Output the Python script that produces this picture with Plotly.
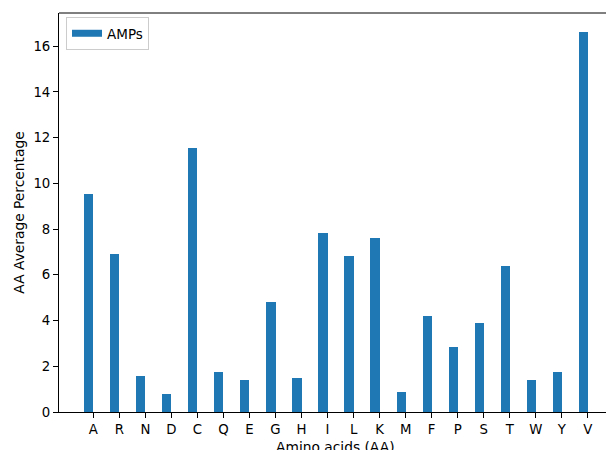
import plotly.graph_objects as go

amino_acids = ["A", "R", "N", "D", "C", "Q", "E", "G", "H", "I",
               "L", "K", "M", "F", "P", "S", "T", "W", "Y", "V"]
amp_values = [9.55, 6.90, 1.58, 0.79, 11.53, 1.75, 1.42, 4.82, 1.47, 7.84,
              6.83, 7.60, 0.87, 4.21, 2.84, 3.89, 6.39, 1.38, 1.76, 16.62]
y_ticks = [0, 2, 4, 6, 8, 10, 12, 14, 16]

BLUE = "#1f77b4"
FONT = "DejaVu Sans"

fig = go.Figure()
fig.add_trace(go.Bar(
    x=amino_acids, y=amp_values, width=0.35, offset=-0.35,
    marker=dict(color=BLUE, line=dict(width=0)),
    showlegend=False, name="AMPs",
))
# legend entry drawn as a wide patch
fig.add_trace(go.Scatter(
    x=[None], y=[None], mode="lines", name="AMPs",
    line=dict(color=BLUE, width=7),
))

fig.update_layout(
    width=606, height=450,
    margin=dict(l=59, r=0, t=13, b=38, pad=0),
    paper_bgcolor="white", plot_bgcolor="white",
    font=dict(family=FONT, size=13.3, color="black"),
    bargap=0,
    legend=dict(
        x=0.0128, y=0.99, xanchor="left", yanchor="top",
        bgcolor="white", bordercolor="#cccccc", borderwidth=1,
        font=dict(family=FONT, size=13.5, color="black"),
        itemwidth=30, tracegroupgap=0,
    ),
    xaxis=dict(
        type="category", range=[-1.32, 19.70],
        showline=True, linecolor="black", linewidth=1, mirror=False,
        ticks="outside", ticklen=5, tickwidth=1, tickcolor="black",
        showgrid=False, zeroline=False, automargin=False,
        tickfont=dict(family=FONT, size=13.3, color="black"),
    ),
    yaxis=dict(
        range=[0, 17.45], tickvals=y_ticks,
        showline=True, linecolor="black", linewidth=1, mirror=False,
        ticks="outside", ticklen=5, tickwidth=1, tickcolor="black",
        showgrid=False, zeroline=False, automargin=False,
        title=dict(text="AA Average Percentage", standoff=5,
                   font=dict(family=FONT, size=13.8, color="black")),
        tickfont=dict(family=FONT, size=13.3, color="black"),
    ),
    shapes=[dict(type="line", xref="paper", yref="paper",
                 x0=0, x1=1, y0=1, y1=1,
                 line=dict(color="black", width=1))],
    annotations=[dict(text="Amino acids (AA)", xref="paper", yref="paper",
                      x=0.506, y=0, xanchor="center", yanchor="top",
                      yshift=-25, showarrow=False,
                      font=dict(family=FONT, size=13.8, color="black"))],
)

fig.write_html(
    "out.html",
    config={"displayModeBar": False},
    post_script="document.body.style.margin='0';document.body.style.overflow='hidden';",
)
